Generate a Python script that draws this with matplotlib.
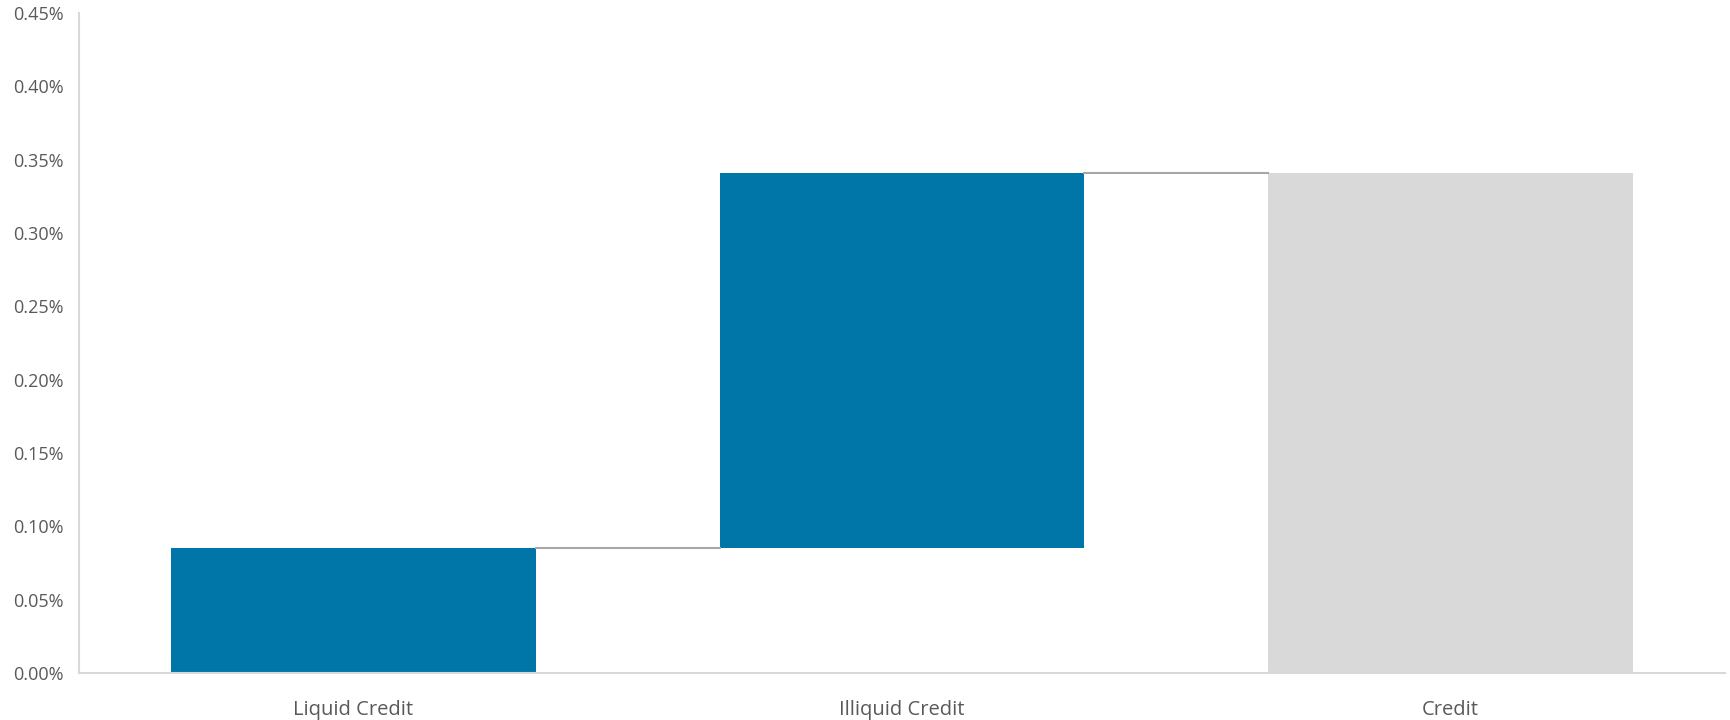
import matplotlib
matplotlib.use("Agg")
import matplotlib.pyplot as plt
from matplotlib.ticker import FuncFormatter, MultipleLocator

categories = ["Liquid Credit", "Illiquid Credit", "Credit"]
contributions = [0.085, 0.256]   # % contribution of each component
total = 0.341                    # combined credit, %

plt.rcParams["font.family"] = ["Open Sans", "DejaVu Sans"]

fig = plt.figure(figsize=(17.3, 7.2), dpi=100)
ax = fig.add_axes([0.0457, 0.0653, 0.9513, 0.9167])

blue = "#0076A8"
grey = "#D9D9D9"
width = 0.665

# waterfall: stacked increments then the total bar
bottoms = [0.0, contributions[0]]
x = list(range(len(categories)))
ax.bar(x[:2], contributions, bottom=bottoms, width=width, color=blue, zorder=2)
ax.bar(x[2], total, width=width, color=grey, zorder=2)

# connectors between bars
levels = [contributions[0], contributions[0] + contributions[1]]
for i, lvl in enumerate(levels):
    ax.plot([x[i] + width / 2, x[i + 1] - width / 2], [lvl, lvl],
            color="#A6A6A6", lw=1.5, zorder=3)

ax.set_xlim(-0.5, 2.5)
ax.set_ylim(0, 0.45)
ax.yaxis.set_major_locator(MultipleLocator(0.05))
ax.yaxis.set_major_formatter(FuncFormatter(lambda v, p: f"{v:.2f}%"))
ax.set_xticks(x)
ax.set_xticklabels(categories)

for s in ["top", "right"]:
    ax.spines[s].set_visible(False)
for s in ["left", "bottom"]:
    ax.spines[s].set_color("#D9D9D9")
    ax.spines[s].set_linewidth(1.5)

ax.tick_params(axis="both", length=0, colors="#595959")
ax.tick_params(axis="y", pad=11, labelsize=13)
ax.tick_params(axis="x", pad=19.5, labelsize=14.5)

fig.savefig("out.png", dpi=100, facecolor="white")
